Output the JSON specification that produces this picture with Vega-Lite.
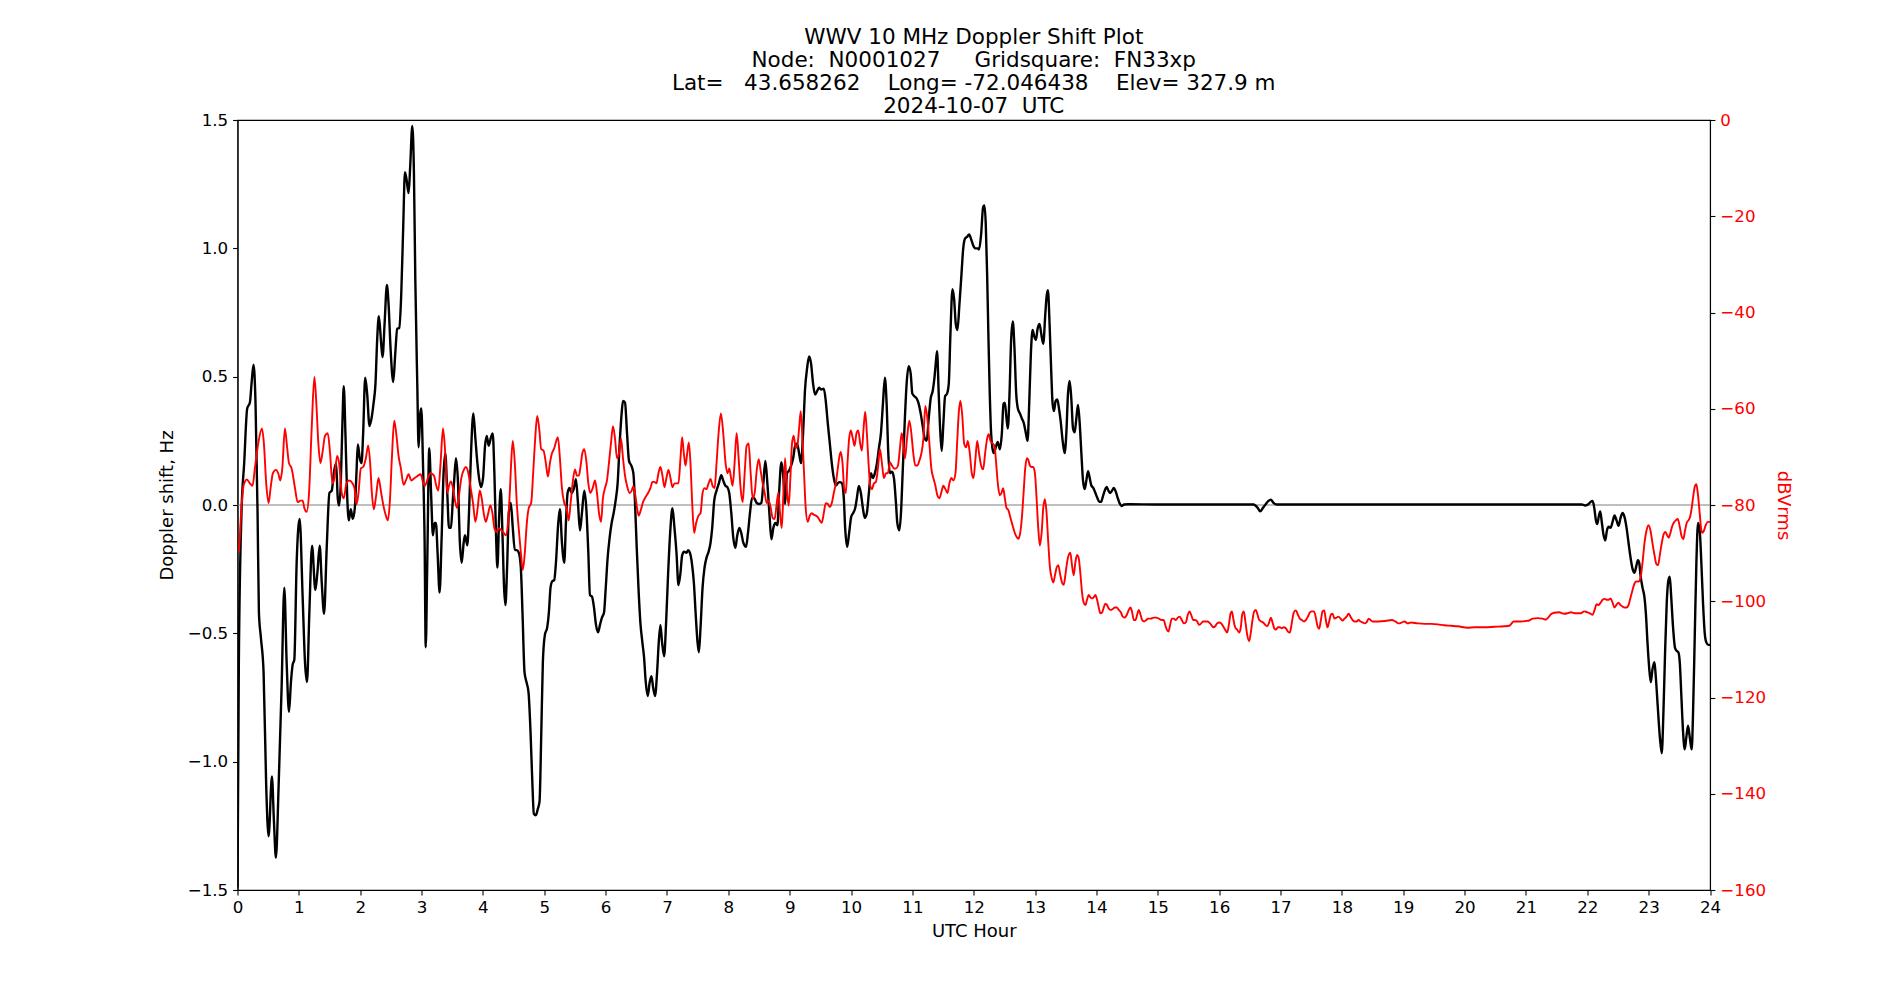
{
  "$schema": "https://vega.github.io/schema/vega-lite/v6.json",
  "width": 1472.5,
  "height": 770,
  "autosize": {"type": "none"},
  "padding": {"left": 237.5, "top": 120, "right": 190, "bottom": 110},
  "background": "white",
  "config": {
    "font": "DejaVu Sans",
    "view": {"stroke": "black", "strokeWidth": 1.1},
    "axis": {
      "grid": false,
      "domainColor": "black",
      "domainWidth": 1.1,
      "tickColor": "black",
      "tickWidth": 1.1,
      "tickSize": 4.9,
      "labelPadding": 4.9,
      "labelFont": "DejaVu Sans",
      "labelFontSize": 16.7,
      "labelColor": "black",
      "labelFlush": false,
      "labelOverlap": false,
      "titleFont": "DejaVu Sans",
      "titleFontSize": 18,
      "titleFontWeight": "normal",
      "titleColor": "black"
    }
  },
  "title": {
    "text": [
      "WWV 10 MHz Doppler Shift Plot",
      "Node:\u00a0\u00a0N0001027\u00a0\u00a0\u00a0\u00a0\u00a0Gridsquare:\u00a0\u00a0FN33xp",
      "Lat=\u00a0\u00a0\u00a043.658262\u00a0\u00a0\u00a0\u00a0Long=\u00a0-72.046438\u00a0\u00a0\u00a0\u00a0Elev=\u00a0327.9\u00a0m",
      "2024-10-07\u00a0\u00a0UTC"
    ],
    "font": "DejaVu Sans",
    "fontSize": 21.5,
    "fontWeight": "normal",
    "lineHeight": 23,
    "color": "black",
    "anchor": "middle",
    "frame": "group",
    "baseline": "bottom",
    "offset": 6,
    "dy": 33
  },
  "datasets": {
    "doppler": [
      {"h":0,"v":-1.49},{"h":0.022,"v":-0.612},{"h":0.065,"v":-0.031},{"h":0.109,"v":0.163},{"h":0.158,"v":0.376},{"h":0.202,"v":0.399},{"h":0.229,"v":0.473},{"h":0.261,"v":0.547},{"h":0.294,"v":0.395},{"h":0.327,"v":-0.031},{"h":0.349,"v":-0.419},{"h":0.381,"v":-0.516},{"h":0.425,"v":-0.651},{"h":0.468,"v":-1.097},{"h":0.507,"v":-1.291},{"h":0.561,"v":-1.058},{"h":0.594,"v":-1.233},{"h":0.626,"v":-1.374},{"h":0.67,"v":-1.097},{"h":0.719,"v":-0.709},{"h":0.763,"v":-0.322},{"h":0.801,"v":-0.612},{"h":0.839,"v":-0.806},{"h":0.871,"v":-0.69},{"h":0.899,"v":-0.622},{"h":0.926,"v":-0.603},{"h":0.964,"v":-0.225},{"h":1.013,"v":-0.054},{"h":1.062,"v":-0.36},{"h":1.1,"v":-0.612},{"h":1.133,"v":-0.69},{"h":1.171,"v":-0.419},{"h":1.215,"v":-0.159},{"h":1.269,"v":-0.331},{"h":1.302,"v":-0.264},{"h":1.34,"v":-0.159},{"h":1.373,"v":-0.302},{"h":1.411,"v":-0.424},{"h":1.454,"v":-0.167},{"h":1.498,"v":0.047},{"h":1.536,"v":0.056},{"h":1.569,"v":0.124},{"h":1.607,"v":0.163},{"h":1.634,"v":0.027},{"h":1.656,"v":-0.002},{"h":1.683,"v":0.085},{"h":1.71,"v":0.318},{"h":1.732,"v":0.463},{"h":1.759,"v":0.279},{"h":1.786,"v":0.047},{"h":1.814,"v":-0.06},{"h":1.846,"v":-0.016},{"h":1.879,"v":-0.054},{"h":1.912,"v":-0.012},{"h":1.939,"v":0.124},{"h":1.961,"v":0.236},{"h":1.993,"v":0.182},{"h":2.021,"v":0.163},{"h":2.048,"v":0.279},{"h":2.081,"v":0.496},{"h":2.113,"v":0.434},{"h":2.151,"v":0.308},{"h":2.184,"v":0.337},{"h":2.217,"v":0.395},{"h":2.249,"v":0.473},{"h":2.277,"v":0.647},{"h":2.304,"v":0.736},{"h":2.342,"v":0.628},{"h":2.364,"v":0.576},{"h":2.397,"v":0.705},{"h":2.435,"v":0.857},{"h":2.462,"v":0.783},{"h":2.495,"v":0.609},{"h":2.538,"v":0.479},{"h":2.571,"v":0.589},{"h":2.603,"v":0.686},{"h":2.636,"v":0.69},{"h":2.669,"v":0.822},{"h":2.702,"v":1.093},{"h":2.729,"v":1.297},{"h":2.756,"v":1.267},{"h":2.789,"v":1.215},{"h":2.816,"v":1.326},{"h":2.849,"v":1.477},{"h":2.876,"v":1.287},{"h":2.898,"v":0.88},{"h":2.93,"v":0.473},{"h":2.952,"v":0.225},{"h":2.979,"v":0.357},{"h":2.996,"v":0.376},{"h":3.023,"v":0.163},{"h":3.05,"v":-0.147},{"h":3.068,"v":-0.554},
      {"h":3.093,"v":-0.225},{"h":3.125,"v":0.221},{"h":3.158,"v":0.027},{"h":3.185,"v":-0.118},{"h":3.212,"v":-0.07},{"h":3.234,"v":-0.07},{"h":3.261,"v":-0.186},{"h":3.294,"v":-0.341},{"h":3.327,"v":-0.128},{"h":3.359,"v":0.124},{"h":3.387,"v":0.202},{"h":3.419,"v":0.047},{"h":3.447,"v":-0.089},{"h":3.479,"v":-0.089},{"h":3.507,"v":0.008},{"h":3.534,"v":0.105},{"h":3.561,"v":0.182},{"h":3.594,"v":0.085},{"h":3.621,"v":-0.128},{"h":3.654,"v":-0.225},{"h":3.686,"v":-0.147},{"h":3.708,"v":-0.118},{"h":3.746,"v":-0.157},{"h":3.773,"v":-0.031},{"h":3.806,"v":0.202},{"h":3.844,"v":0.357},{"h":3.877,"v":0.26},{"h":3.91,"v":0.163},{"h":3.937,"v":0.105},{"h":3.969,"v":0.07},{"h":4.002,"v":0.105},{"h":4.035,"v":0.231},{"h":4.062,"v":0.269},{"h":4.095,"v":0.231},{"h":4.127,"v":0.26},{"h":4.16,"v":0.279},{"h":4.187,"v":0.124},{"h":4.215,"v":-0.128},{"h":4.236,"v":-0.244},{"h":4.264,"v":-0.05},{"h":4.291,"v":0.062},{"h":4.318,"v":-0.109},{"h":4.345,"v":-0.322},{"h":4.367,"v":-0.39},{"h":4.394,"v":-0.244},{"h":4.422,"v":-0.031},{"h":4.454,"v":0.008},{"h":4.487,"v":-0.089},{"h":4.52,"v":-0.176},{"h":4.552,"v":-0.176},{"h":4.585,"v":-0.186},{"h":4.618,"v":-0.244},{"h":4.645,"v":-0.419},{"h":4.678,"v":-0.651},{"h":4.71,"v":-0.69},{"h":4.743,"v":-0.729},{"h":4.776,"v":-0.884},{"h":4.808,"v":-1.097},{"h":4.83,"v":-1.203},{"h":4.863,"v":-1.209},{"h":4.895,"v":-1.184},{"h":4.923,"v":-1.155},{"h":4.95,"v":-0.903},{"h":4.977,"v":-0.612},{"h":5.01,"v":-0.506},{"h":5.048,"v":-0.477},{"h":5.075,"v":-0.419},{"h":5.102,"v":-0.322},{"h":5.13,"v":-0.297},{"h":5.162,"v":-0.293},{"h":5.19,"v":-0.225},{"h":5.228,"v":-0.07},{"h":5.255,"v":-0.016},{"h":5.288,"v":-0.147},{"h":5.326,"v":-0.225},{"h":5.353,"v":-0.07},{"h":5.38,"v":0.047},{"h":5.413,"v":0.066},{"h":5.446,"v":0.047},{"h":5.484,"v":0.066},{"h":5.516,"v":0.101},{"h":5.549,"v":0.008},{"h":5.582,"v":-0.099},{"h":5.614,"v":-0.031},{"h":5.652,"v":0.056},{"h":5.685,"v":-0.012},{"h":5.718,"v":-0.186},{"h":5.745,"v":-0.351},{"h":5.778,"v":-0.357},{"h":5.81,"v":-0.399},{"h":5.843,"v":-0.467},{"h":5.876,"v":-0.496},{"h":5.908,"v":-0.467},{"h":5.941,"v":-0.438},{"h":5.974,"v":-0.419},{"h":6.0,"v":-0.33},
      {"h":6.033,"v":-0.205},{"h":6.065,"v":-0.128},{"h":6.098,"v":-0.07},{"h":6.131,"v":-0.031},{"h":6.163,"v":0.017},{"h":6.196,"v":0.085},{"h":6.229,"v":0.24},{"h":6.261,"v":0.357},{"h":6.283,"v":0.405},{"h":6.316,"v":0.399},{"h":6.349,"v":0.279},{"h":6.381,"v":0.172},{"h":6.419,"v":0.153},{"h":6.452,"v":0.124},{"h":6.479,"v":0.008},{"h":6.507,"v":-0.167},{"h":6.539,"v":-0.341},{"h":6.566,"v":-0.457},{"h":6.599,"v":-0.535},{"h":6.626,"v":-0.593},{"h":6.654,"v":-0.69},{"h":6.686,"v":-0.744},{"h":6.719,"v":-0.69},{"h":6.746,"v":-0.667},{"h":6.773,"v":-0.709},{"h":6.806,"v":-0.744},{"h":6.839,"v":-0.651},{"h":6.866,"v":-0.535},{"h":6.893,"v":-0.467},{"h":6.92,"v":-0.535},{"h":6.953,"v":-0.589},{"h":6.986,"v":-0.457},{"h":7.019,"v":-0.264},{"h":7.057,"v":-0.089},{"h":7.089,"v":-0.012},{"h":7.122,"v":-0.089},{"h":7.155,"v":-0.186},{"h":7.187,"v":-0.312},{"h":7.22,"v":-0.264},{"h":7.247,"v":-0.196},{"h":7.28,"v":-0.182},{"h":7.318,"v":-0.186},{"h":7.345,"v":-0.176},{"h":7.373,"v":-0.186},{"h":7.405,"v":-0.225},{"h":7.438,"v":-0.302},{"h":7.471,"v":-0.438},{"h":7.498,"v":-0.535},{"h":7.52,"v":-0.574},{"h":7.547,"v":-0.477},{"h":7.58,"v":-0.322},{"h":7.612,"v":-0.244},{"h":7.645,"v":-0.205},{"h":7.678,"v":-0.182},{"h":7.71,"v":-0.147},{"h":7.737,"v":-0.089},{"h":7.77,"v":0.017},{"h":7.808,"v":0.056},{"h":7.846,"v":0.085},{"h":7.885,"v":0.116},{"h":7.917,"v":0.095},{"h":7.95,"v":0.076},{"h":7.983,"v":0.07},{"h":8.015,"v":0.047},{"h":8.048,"v":-0.031},{"h":8.081,"v":-0.128},{"h":8.113,"v":-0.167},{"h":8.146,"v":-0.118},{"h":8.179,"v":-0.089},{"h":8.211,"v":-0.109},{"h":8.244,"v":-0.147},{"h":8.288,"v":-0.163},{"h":8.32,"v":-0.109},{"h":8.353,"v":-0.031},{"h":8.386,"v":0.027},{"h":8.418,"v":0.027},{"h":8.462,"v":0.008},{"h":8.505,"v":0.004},{"h":8.538,"v":0.008},{"h":8.571,"v":0.085},{"h":8.603,"v":0.172},{"h":8.636,"v":0.085},{"h":8.669,"v":-0.031},{"h":8.702,"v":-0.134},{"h":8.734,"v":-0.089},{"h":8.767,"v":-0.07},{"h":8.8,"v":-0.079},{"h":8.827,"v":0.047},{"h":8.865,"v":0.167},{"h":8.892,"v":0.124},{"h":8.925,"v":0.004},{"h":8.957,"v":0.124},{"h":8.99,"v":0.134},{"h":9.023,"v":0.153},{"h":9.056,"v":0.182},{"h":9.088,"v":0.23},
      {"h":9.12,"v":0.24},{"h":9.153,"v":0.202},{"h":9.185,"v":0.163},{"h":9.218,"v":0.279},{"h":9.251,"v":0.453},{"h":9.283,"v":0.531},{"h":9.316,"v":0.579},{"h":9.349,"v":0.55},{"h":9.381,"v":0.473},{"h":9.414,"v":0.43},{"h":9.447,"v":0.444},{"h":9.479,"v":0.457},{"h":9.512,"v":0.45},{"h":9.556,"v":0.453},{"h":9.588,"v":0.405},{"h":9.621,"v":0.318},{"h":9.654,"v":0.24},{"h":9.686,"v":0.163},{"h":9.719,"v":0.105},{"h":9.752,"v":0.076},{"h":9.784,"v":0.085},{"h":9.817,"v":0.089},{"h":9.85,"v":0.085},{"h":9.882,"v":0.027},{"h":9.904,"v":-0.089},{"h":9.937,"v":-0.163},{"h":9.969,"v":-0.109},{"h":10.002,"v":-0.047},{"h":10.035,"v":-0.031},{"h":10.068,"v":-0.012},{"h":10.095,"v":0.027},{"h":10.127,"v":0.074},{"h":10.16,"v":0.047},{"h":10.193,"v":-0.012},{"h":10.225,"v":-0.05},{"h":10.258,"v":-0.031},{"h":10.291,"v":0.047},{"h":10.324,"v":0.124},{"h":10.356,"v":0.105},{"h":10.389,"v":0.124},{"h":10.422,"v":0.163},{"h":10.454,"v":0.221},{"h":10.487,"v":0.279},{"h":10.52,"v":0.395},{"h":10.552,"v":0.496},{"h":10.58,"v":0.395},{"h":10.607,"v":0.202},{"h":10.634,"v":0.124},{"h":10.667,"v":0.13},{"h":10.699,"v":0.105},{"h":10.732,"v":0.008},{"h":10.754,"v":-0.07},{"h":10.786,"v":-0.099},{"h":10.814,"v":-0.031},{"h":10.841,"v":0.124},{"h":10.874,"v":0.318},{"h":10.906,"v":0.473},{"h":10.939,"v":0.541},{"h":10.972,"v":0.512},{"h":10.999,"v":0.434},{"h":11.032,"v":0.424},{"h":11.07,"v":0.415},{"h":11.102,"v":0.395},{"h":11.135,"v":0.357},{"h":11.168,"v":0.308},{"h":11.2,"v":0.26},{"h":11.233,"v":0.25},{"h":11.266,"v":0.337},{"h":11.298,"v":0.415},{"h":11.331,"v":0.444},{"h":11.358,"v":0.492},{"h":11.38,"v":0.55},{"h":11.402,"v":0.599},{"h":11.429,"v":0.434},{"h":11.456,"v":0.279},{"h":11.478,"v":0.211},{"h":11.505,"v":0.318},{"h":11.533,"v":0.424},{"h":11.565,"v":0.434},{"h":11.593,"v":0.473},{"h":11.62,"v":0.667},{"h":11.653,"v":0.841},{"h":11.68,"v":0.802},{"h":11.707,"v":0.705},{"h":11.734,"v":0.682},{"h":11.767,"v":0.783},{"h":11.8,"v":0.899},{"h":11.827,"v":0.996},{"h":11.859,"v":1.039},{"h":11.892,"v":1.045},{"h":11.925,"v":1.054},{"h":11.958,"v":1.035},{"h":11.99,"v":1.012},{"h":12.023,"v":1.0},{"h":12.061,"v":1.0},
      {"h":12.087,"v":0.996},{"h":12.12,"v":1.054},{"h":12.153,"v":1.161},{"h":12.174,"v":1.167},{"h":12.196,"v":1.093},{"h":12.218,"v":0.899},{"h":12.24,"v":0.647},{"h":12.261,"v":0.434},{"h":12.283,"v":0.279},{"h":12.305,"v":0.221},{"h":12.327,"v":0.202},{"h":12.359,"v":0.225},{"h":12.392,"v":0.246},{"h":12.425,"v":0.217},{"h":12.458,"v":0.279},{"h":12.485,"v":0.395},{"h":12.507,"v":0.399},{"h":12.534,"v":0.337},{"h":12.556,"v":0.298},{"h":12.583,"v":0.434},{"h":12.61,"v":0.647},{"h":12.637,"v":0.715},{"h":12.664,"v":0.609},{"h":12.692,"v":0.434},{"h":12.719,"v":0.376},{"h":12.752,"v":0.357},{"h":12.784,"v":0.337},{"h":12.817,"v":0.318},{"h":12.85,"v":0.279},{"h":12.877,"v":0.25},{"h":12.904,"v":0.395},{"h":12.931,"v":0.589},{"h":12.959,"v":0.682},{"h":12.986,"v":0.657},{"h":13.013,"v":0.643},{"h":13.04,"v":0.686},{"h":13.073,"v":0.705},{"h":13.1,"v":0.667},{"h":13.133,"v":0.628},{"h":13.166,"v":0.744},{"h":13.187,"v":0.812},{"h":13.209,"v":0.837},{"h":13.236,"v":0.705},{"h":13.264,"v":0.512},{"h":13.285,"v":0.395},{"h":13.307,"v":0.366},{"h":13.334,"v":0.405},{"h":13.362,"v":0.411},{"h":13.389,"v":0.376},{"h":13.416,"v":0.328},{"h":13.449,"v":0.25},{"h":13.481,"v":0.202},{"h":13.509,"v":0.279},{"h":13.536,"v":0.434},{"h":13.563,"v":0.483},{"h":13.59,"v":0.415},{"h":13.618,"v":0.298},{"h":13.645,"v":0.283},{"h":13.672,"v":0.337},{"h":13.699,"v":0.39},{"h":13.727,"v":0.318},{"h":13.754,"v":0.202},{"h":13.781,"v":0.095},{"h":13.808,"v":0.062},{"h":13.835,"v":0.095},{"h":13.863,"v":0.132},{"h":13.89,"v":0.105},{"h":13.917,"v":0.076},{"h":13.95,"v":0.066},{"h":13.983,"v":0.047},{"h":14.015,"v":0.027},{"h":14.048,"v":0.012},{"h":14.075,"v":0.012},{"h":14.102,"v":0.031},{"h":14.135,"v":0.056},{"h":14.168,"v":0.07},{"h":14.195,"v":0.056},{"h":14.222,"v":0.047},{"h":14.255,"v":0.056},{"h":14.282,"v":0.066},{"h":14.309,"v":0.056},{"h":14.342,"v":0.031},{"h":14.375,"v":0.008},{"h":14.407,"v":-0.004},{"h":14.451,"v":0.002},{"h":14.516,"v":0.003},{"h":15.0,"v":0.002},{"h":15.5,"v":0.002},{"h":16.0,"v":0.002},{"h":16.56,"v":0.002},{"h":16.63,"v":-0.012},{"h":16.668,"v":-0.025},{"h":16.712,"v":-0.012},{"h":16.761,"v":0.004},{"h":16.804,"v":0.016},{"h":16.842,"v":0.021},{"h":16.886,"v":0.008},{"h":16.94,"v":0.002},{"h":17.5,"v":0.002},{"h":18.0,"v":0.002},{"h":19.0,"v":0.002},{"h":20.0,"v":0.002},{"h":21.0,"v":0.002},{"h":21.913,"v":0.002},
      {"h":21.967,"v":-0.002},{"h":22.022,"v":0.004},{"h":22.054,"v":0.012},{"h":22.087,"v":0.016},{"h":22.114,"v":-0.012},{"h":22.141,"v":-0.06},{"h":22.163,"v":-0.074},{"h":22.19,"v":-0.041},{"h":22.211,"v":-0.025},{"h":22.238,"v":-0.07},{"h":22.266,"v":-0.118},{"h":22.293,"v":-0.138},{"h":22.32,"v":-0.099},{"h":22.347,"v":-0.085},{"h":22.379,"v":-0.089},{"h":22.412,"v":-0.066},{"h":22.444,"v":-0.041},{"h":22.477,"v":-0.06},{"h":22.509,"v":-0.081},{"h":22.542,"v":-0.05},{"h":22.575,"v":-0.031},{"h":22.607,"v":-0.047},{"h":22.64,"v":-0.089},{"h":22.672,"v":-0.147},{"h":22.705,"v":-0.205},{"h":22.737,"v":-0.248},{"h":22.77,"v":-0.264},{"h":22.797,"v":-0.24},{"h":22.824,"v":-0.215},{"h":22.846,"v":-0.225},{"h":22.867,"v":-0.273},{"h":22.9,"v":-0.322},{"h":22.932,"v":-0.36},{"h":22.954,"v":-0.419},{"h":22.981,"v":-0.535},{"h":23.008,"v":-0.632},{"h":23.035,"v":-0.69},{"h":23.062,"v":-0.641},{"h":23.095,"v":-0.612},{"h":23.117,"v":-0.671},{"h":23.149,"v":-0.787},{"h":23.182,"v":-0.903},{"h":23.214,"v":-0.967},{"h":23.241,"v":-0.806},{"h":23.268,"v":-0.574},{"h":23.295,"v":-0.38},{"h":23.322,"v":-0.293},{"h":23.344,"v":-0.279},{"h":23.366,"v":-0.351},{"h":23.398,"v":-0.477},{"h":23.431,"v":-0.558},{"h":23.463,"v":-0.57},{"h":23.485,"v":-0.574},{"h":23.507,"v":-0.612},{"h":23.534,"v":-0.748},{"h":23.561,"v":-0.884},{"h":23.588,"v":-0.952},{"h":23.615,"v":-0.903},{"h":23.642,"v":-0.86},{"h":23.669,"v":-0.903},{"h":23.702,"v":-0.952},{"h":23.724,"v":-0.806},{"h":23.751,"v":-0.516},{"h":23.778,"v":-0.225},{"h":23.805,"v":-0.07},{"h":23.832,"v":-0.099},{"h":23.859,"v":-0.225},{"h":23.886,"v":-0.38},{"h":23.913,"v":-0.496},{"h":23.94,"v":-0.535},{"h":23.973,"v":-0.545},{"h":24.0,"v":-0.545}
    ],
    "power": [
      {"h":0.005,"db":-89.6},{"h":0.022,"db":-89.4},{"h":0.054,"db":-82.7},{"h":0.098,"db":-76.0},{"h":0.153,"db":-74.7},{"h":0.202,"db":-75.5},{"h":0.245,"db":-76.0},{"h":0.283,"db":-72.4},{"h":0.338,"db":-67.2},{"h":0.398,"db":-64.1},{"h":0.43,"db":-67.2},{"h":0.468,"db":-75.5},{"h":0.507,"db":-79.6},{"h":0.539,"db":-76.5},{"h":0.577,"db":-73.4},{"h":0.626,"db":-72.7},{"h":0.664,"db":-73.4},{"h":0.697,"db":-74.9},{"h":0.73,"db":-72.4},{"h":0.773,"db":-64.1},{"h":0.806,"db":-67.7},{"h":0.839,"db":-71.3},{"h":0.882,"db":-72.4},{"h":0.937,"db":-76.5},{"h":0.98,"db":-79.4},{"h":1.024,"db":-79.1},{"h":1.062,"db":-79.1},{"h":1.089,"db":-80.6},{"h":1.127,"db":-81.4},{"h":1.166,"db":-77.5},{"h":1.209,"db":-64.1},{"h":1.253,"db":-53.4},{"h":1.285,"db":-58.9},{"h":1.318,"db":-67.2},{"h":1.351,"db":-71.3},{"h":1.383,"db":-69.3},{"h":1.427,"db":-65.6},{"h":1.471,"db":-65.1},{"h":1.509,"db":-69.3},{"h":1.547,"db":-75.5},{"h":1.58,"db":-74.4},{"h":1.623,"db":-69.8},{"h":1.656,"db":-71.3},{"h":1.699,"db":-77.5},{"h":1.732,"db":-78.6},{"h":1.776,"db":-75.5},{"h":1.819,"db":-74.9},{"h":1.874,"db":-75.5},{"h":1.906,"db":-76.5},{"h":1.939,"db":-79.9},{"h":1.972,"db":-77.5},{"h":2.01,"db":-72.4},{"h":2.048,"db":-72.1},{"h":2.092,"db":-70.3},{"h":2.13,"db":-67.6},{"h":2.162,"db":-71.3},{"h":2.19,"db":-77.5},{"h":2.222,"db":-80.9},{"h":2.26,"db":-78.0},{"h":2.298,"db":-74.4},{"h":2.342,"db":-77.5},{"h":2.386,"db":-80.6},{"h":2.418,"db":-82.2},{"h":2.451,"db":-83.2},{"h":2.484,"db":-79.1},{"h":2.516,"db":-70.3},{"h":2.554,"db":-62.5},{"h":2.587,"db":-65.1},{"h":2.625,"db":-69.8},{"h":2.663,"db":-72.4},{"h":2.707,"db":-75.8},{"h":2.745,"db":-74.9},{"h":2.789,"db":-73.6},{"h":2.832,"db":-74.9},{"h":2.887,"db":-74.4},{"h":2.941,"db":-73.9},{"h":2.985,"db":-73.6},{"h":3.028,"db":-75.5},
      {"h":3.054,"db":-76.0},{"h":3.098,"db":-74.6},{"h":3.147,"db":-73.4},{"h":3.202,"db":-73.9},{"h":3.24,"db":-76.0},{"h":3.272,"db":-77.0},{"h":3.31,"db":-71.3},{"h":3.349,"db":-64.1},{"h":3.381,"db":-68.2},{"h":3.419,"db":-77.5},{"h":3.447,"db":-76.0},{"h":3.479,"db":-75.1},{"h":3.512,"db":-76.5},{"h":3.545,"db":-79.1},{"h":3.577,"db":-80.6},{"h":3.61,"db":-78.0},{"h":3.648,"db":-74.4},{"h":3.692,"db":-72.6},{"h":3.724,"db":-72.1},{"h":3.763,"db":-73.4},{"h":3.801,"db":-76.5},{"h":3.839,"db":-79.6},{"h":3.877,"db":-83.5},{"h":3.915,"db":-80.6},{"h":3.948,"db":-77.0},{"h":3.98,"db":-78.6},{"h":4.013,"db":-81.7},{"h":4.046,"db":-83.5},{"h":4.078,"db":-82.2},{"h":4.122,"db":-80.1},{"h":4.155,"db":-81.7},{"h":4.187,"db":-84.8},{"h":4.22,"db":-85.6},{"h":4.264,"db":-84.8},{"h":4.302,"db":-85.3},{"h":4.34,"db":-85.8},{"h":4.373,"db":-86.3},{"h":4.405,"db":-84.2},{"h":4.438,"db":-77.5},{"h":4.46,"db":-71.3},{"h":4.487,"db":-66.7},{"h":4.52,"db":-71.3},{"h":4.552,"db":-79.6},{"h":4.59,"db":-85.8},{"h":4.618,"db":-89.9},{"h":4.65,"db":-93.5},{"h":4.683,"db":-89.9},{"h":4.716,"db":-83.7},{"h":4.748,"db":-80.6},{"h":4.786,"db":-79.6},{"h":4.819,"db":-73.4},{"h":4.852,"db":-66.2},{"h":4.885,"db":-61.5},{"h":4.917,"db":-64.1},{"h":4.95,"db":-68.4},{"h":4.988,"db":-68.7},{"h":5.026,"db":-71.3},{"h":5.059,"db":-74.1},{"h":5.092,"db":-71.3},{"h":5.124,"db":-69.3},{"h":5.162,"db":-68.2},{"h":5.195,"db":-66.7},{"h":5.222,"db":-65.9},{"h":5.255,"db":-70.3},{"h":5.288,"db":-76.5},{"h":5.326,"db":-79.6},{"h":5.364,"db":-80.6},{"h":5.397,"db":-83.2},{"h":5.429,"db":-79.6},{"h":5.462,"db":-75.5},{"h":5.5,"db":-72.6},{"h":5.533,"db":-73.9},{"h":5.565,"db":-73.9},{"h":5.593,"db":-71.8},{"h":5.62,"db":-69.3},{"h":5.652,"db":-68.4},{"h":5.685,"db":-70.8},{"h":5.718,"db":-75.5},{"h":5.75,"db":-77.5},{"h":5.789,"db":-76.5},{"h":5.827,"db":-74.9},{"h":5.859,"db":-77.5},{"h":5.892,"db":-81.7},{"h":5.925,"db":-83.5},
      {"h":5.956,"db":-78.6},{"h":5.989,"db":-76.5},{"h":6.022,"db":-74.9},{"h":6.054,"db":-71.3},{"h":6.087,"db":-67.2},{"h":6.12,"db":-63.6},{"h":6.153,"db":-66.2},{"h":6.185,"db":-70.3},{"h":6.218,"db":-69.3},{"h":6.251,"db":-66.2},{"h":6.283,"db":-70.3},{"h":6.316,"db":-73.9},{"h":6.349,"db":-76.0},{"h":6.392,"db":-77.5},{"h":6.425,"db":-77.0},{"h":6.452,"db":-76.1},{"h":6.479,"db":-77.5},{"h":6.512,"db":-80.6},{"h":6.539,"db":-82.2},{"h":6.572,"db":-81.1},{"h":6.61,"db":-79.4},{"h":6.654,"db":-78.3},{"h":6.692,"db":-77.5},{"h":6.73,"db":-76.5},{"h":6.763,"db":-75.2},{"h":6.795,"db":-75.2},{"h":6.828,"db":-75.5},{"h":6.861,"db":-73.4},{"h":6.893,"db":-72.1},{"h":6.926,"db":-73.9},{"h":6.959,"db":-76.3},{"h":6.991,"db":-74.4},{"h":7.024,"db":-72.7},{"h":7.057,"db":-74.4},{"h":7.089,"db":-76.3},{"h":7.122,"db":-75.5},{"h":7.155,"db":-75.5},{"h":7.187,"db":-75.5},{"h":7.22,"db":-70.3},{"h":7.247,"db":-65.9},{"h":7.275,"db":-69.3},{"h":7.302,"db":-71.8},{"h":7.329,"db":-69.3},{"h":7.356,"db":-67.0},{"h":7.383,"db":-71.3},{"h":7.411,"db":-79.6},{"h":7.443,"db":-85.8},{"h":7.476,"db":-83.7},{"h":7.514,"db":-82.2},{"h":7.547,"db":-81.7},{"h":7.58,"db":-77.5},{"h":7.612,"db":-76.5},{"h":7.645,"db":-76.7},{"h":7.678,"db":-75.5},{"h":7.71,"db":-74.6},{"h":7.743,"db":-76.0},{"h":7.776,"db":-76.5},{"h":7.808,"db":-71.3},{"h":7.841,"db":-65.1},{"h":7.879,"db":-61.0},{"h":7.917,"db":-65.1},{"h":7.955,"db":-71.3},{"h":7.988,"db":-73.4},{"h":8.015,"db":-72.4},{"h":8.042,"db":-74.2},{"h":8.07,"db":-76.0},{"h":8.102,"db":-71.3},{"h":8.135,"db":-65.1},{"h":8.168,"db":-70.3},{"h":8.2,"db":-76.5},{"h":8.233,"db":-79.4},{"h":8.266,"db":-73.4},{"h":8.298,"db":-67.7},{"h":8.331,"db":-67.2},{"h":8.364,"db":-73.4},{"h":8.397,"db":-78.6},{"h":8.429,"db":-77.5},{"h":8.462,"db":-72.9},{"h":8.495,"db":-70.5},{"h":8.527,"db":-72.9},{"h":8.56,"db":-75.5},{"h":8.593,"db":-77.5},{"h":8.625,"db":-79.6},{"h":8.658,"db":-79.1},{"h":8.691,"db":-80.6},{"h":8.723,"db":-82.7},{"h":8.756,"db":-82.9},{"h":8.789,"db":-79.6},{"h":8.816,"db":-77.5},{"h":8.843,"db":-81.7},{"h":8.87,"db":-84.8},{"h":8.898,"db":-77.5},{"h":8.925,"db":-70.3},{"h":8.952,"db":-76.5},{"h":8.984,"db":-80.1},
      {"h":9.011,"db":-74.4},{"h":9.038,"db":-67.2},{"h":9.065,"db":-65.6},{"h":9.098,"db":-68.2},{"h":9.125,"db":-67.7},{"h":9.153,"db":-64.1},{"h":9.18,"db":-60.5},{"h":9.207,"db":-66.2},{"h":9.234,"db":-73.4},{"h":9.261,"db":-80.6},{"h":9.294,"db":-83.5},{"h":9.327,"db":-82.2},{"h":9.359,"db":-81.7},{"h":9.392,"db":-82.0},{"h":9.425,"db":-82.2},{"h":9.458,"db":-82.5},{"h":9.49,"db":-83.2},{"h":9.523,"db":-83.7},{"h":9.556,"db":-81.7},{"h":9.588,"db":-79.6},{"h":9.621,"db":-79.8},{"h":9.654,"db":-80.4},{"h":9.686,"db":-79.6},{"h":9.719,"db":-77.5},{"h":9.752,"db":-75.5},{"h":9.784,"db":-72.4},{"h":9.812,"db":-69.8},{"h":9.833,"db":-69.0},{"h":9.861,"db":-71.3},{"h":9.888,"db":-76.5},{"h":9.915,"db":-77.5},{"h":9.942,"db":-71.3},{"h":9.969,"db":-66.2},{"h":9.997,"db":-64.5},{"h":10.029,"db":-66.2},{"h":10.057,"db":-67.7},{"h":10.089,"db":-65.1},{"h":10.117,"db":-64.5},{"h":10.149,"db":-67.2},{"h":10.176,"db":-68.7},{"h":10.204,"db":-64.1},{"h":10.231,"db":-60.6},{"h":10.258,"db":-65.1},{"h":10.285,"db":-71.3},{"h":10.313,"db":-76.0},{"h":10.34,"db":-76.7},{"h":10.373,"db":-75.5},{"h":10.405,"db":-75.2},{"h":10.438,"db":-72.4},{"h":10.471,"db":-68.4},{"h":10.503,"db":-71.3},{"h":10.536,"db":-74.4},{"h":10.569,"db":-73.4},{"h":10.601,"db":-73.4},{"h":10.634,"db":-71.1},{"h":10.667,"db":-71.8},{"h":10.699,"db":-72.4},{"h":10.732,"db":-72.4},{"h":10.765,"db":-71.8},{"h":10.797,"db":-68.2},{"h":10.825,"db":-65.1},{"h":10.852,"db":-67.2},{"h":10.879,"db":-70.3},{"h":10.912,"db":-66.2},{"h":10.95,"db":-62.5},{"h":10.983,"db":-65.1},{"h":11.015,"db":-69.3},{"h":11.048,"db":-71.8},{"h":11.081,"db":-71.8},{"h":11.113,"db":-70.8},{"h":11.146,"db":-69.3},{"h":11.179,"db":-66.2},{"h":11.211,"db":-59.4},{"h":11.244,"db":-62.0},{"h":11.277,"db":-67.2},{"h":11.309,"db":-72.4},{"h":11.342,"db":-74.4},{"h":11.375,"db":-76.0},{"h":11.407,"db":-78.0},{"h":11.44,"db":-78.6},{"h":11.473,"db":-77.3},{"h":11.505,"db":-76.0},{"h":11.538,"db":-76.7},{"h":11.571,"db":-77.5},{"h":11.603,"db":-75.5},{"h":11.636,"db":-74.4},{"h":11.669,"db":-74.9},{"h":11.702,"db":-73.4},{"h":11.729,"db":-67.2},{"h":11.756,"db":-60.8},{"h":11.783,"db":-58.4},{"h":11.816,"db":-62.0},{"h":11.843,"db":-67.2},{"h":11.876,"db":-68.0},{"h":11.903,"db":-66.7},{"h":11.936,"db":-69.3},{"h":11.968,"db":-73.4},{"h":11.996,"db":-74.4},{"h":12.028,"db":-70.3},{"h":12.056,"db":-66.7},
      {"h":12.087,"db":-69.3},{"h":12.12,"db":-71.8},{"h":12.153,"db":-72.6},{"h":12.185,"db":-69.3},{"h":12.218,"db":-66.2},{"h":12.245,"db":-65.3},{"h":12.272,"db":-66.7},{"h":12.305,"db":-67.2},{"h":12.338,"db":-67.7},{"h":12.365,"db":-71.3},{"h":12.392,"db":-75.5},{"h":12.425,"db":-78.0},{"h":12.452,"db":-77.5},{"h":12.479,"db":-76.5},{"h":12.507,"db":-78.6},{"h":12.534,"db":-80.6},{"h":12.566,"db":-81.1},{"h":12.599,"db":-82.7},{"h":12.632,"db":-84.2},{"h":12.664,"db":-85.6},{"h":12.697,"db":-86.6},{"h":12.73,"db":-87.0},{"h":12.757,"db":-85.8},{"h":12.784,"db":-82.7},{"h":12.812,"db":-77.5},{"h":12.839,"db":-72.4},{"h":12.866,"db":-70.3},{"h":12.888,"db":-70.6},{"h":12.915,"db":-71.8},{"h":12.942,"db":-72.1},{"h":12.969,"db":-72.1},{"h":12.997,"db":-73.4},{"h":13.024,"db":-78.6},{"h":13.051,"db":-84.8},{"h":13.078,"db":-88.4},{"h":13.106,"db":-85.8},{"h":13.133,"db":-80.6},{"h":13.16,"db":-78.8},{"h":13.187,"db":-81.7},{"h":13.215,"db":-87.9},{"h":13.242,"db":-93.0},{"h":13.269,"db":-95.1},{"h":13.296,"db":-96.1},{"h":13.324,"db":-94.6},{"h":13.351,"db":-93.0},{"h":13.378,"db":-92.5},{"h":13.411,"db":-94.6},{"h":13.438,"db":-96.1},{"h":13.465,"db":-96.6},{"h":13.493,"db":-94.6},{"h":13.52,"db":-92.0},{"h":13.547,"db":-90.4},{"h":13.574,"db":-89.9},{"h":13.601,"db":-92.5},{"h":13.629,"db":-94.6},{"h":13.656,"db":-92.0},{"h":13.683,"db":-90.4},{"h":13.71,"db":-91.0},{"h":13.737,"db":-94.1},{"h":13.765,"db":-98.2},{"h":13.792,"db":-100.3},{"h":13.819,"db":-100.8},{"h":13.846,"db":-99.7},{"h":13.874,"db":-98.7},{"h":13.901,"db":-99.2},{"h":13.928,"db":-99.4},{"h":13.955,"db":-99.2},{"h":13.983,"db":-98.7},{"h":14.01,"db":-99.7},{"h":14.037,"db":-101.3},{"h":14.064,"db":-102.5},{"h":14.092,"db":-102.3},{"h":14.119,"db":-101.3},{"h":14.146,"db":-100.5},{"h":14.173,"db":-100.8},{"h":14.2,"db":-101.5},{"h":14.233,"db":-101.8},{"h":14.266,"db":-101.6},{"h":14.298,"db":-101.3},{"h":14.331,"db":-101.3},{"h":14.364,"db":-101.8},{"h":14.397,"db":-102.3},{"h":14.429,"db":-103.2},{"h":14.462,"db":-103.4},{"h":14.495,"db":-102.8},{"h":14.527,"db":-101.8},{"h":14.554,"db":-101.3},{"h":14.582,"db":-102.3},{"h":14.609,"db":-103.9},{"h":14.636,"db":-103.9},{"h":14.663,"db":-102.8},{"h":14.691,"db":-101.8},{"h":14.718,"db":-102.8},{"h":14.745,"db":-103.9},{"h":14.778,"db":-104.2},{"h":14.81,"db":-103.9},{"h":14.843,"db":-103.6},{"h":14.887,"db":-103.6},{"h":14.93,"db":-103.4},{"h":14.974,"db":-103.4},{"h":15.017,"db":-103.6},
      {"h":15.065,"db":-103.9},{"h":15.098,"db":-103.9},{"h":15.12,"db":-104.9},{"h":15.147,"db":-105.9},{"h":15.174,"db":-106.3},{"h":15.201,"db":-104.9},{"h":15.228,"db":-103.6},{"h":15.261,"db":-103.6},{"h":15.293,"db":-103.9},{"h":15.326,"db":-103.4},{"h":15.359,"db":-103.2},{"h":15.391,"db":-103.9},{"h":15.424,"db":-104.6},{"h":15.457,"db":-104.4},{"h":15.489,"db":-102.8},{"h":15.516,"db":-102.1},{"h":15.543,"db":-102.8},{"h":15.576,"db":-103.9},{"h":15.609,"db":-103.9},{"h":15.641,"db":-104.2},{"h":15.674,"db":-104.9},{"h":15.707,"db":-104.6},{"h":15.739,"db":-104.2},{"h":15.804,"db":-104.2},{"h":15.837,"db":-104.4},{"h":15.87,"db":-104.9},{"h":15.902,"db":-105.4},{"h":15.935,"db":-105.2},{"h":15.967,"db":-104.6},{"h":16.0,"db":-104.4},{"h":16.033,"db":-104.6},{"h":16.065,"db":-105.2},{"h":16.098,"db":-105.9},{"h":16.13,"db":-106.5},{"h":16.158,"db":-104.9},{"h":16.185,"db":-102.6},{"h":16.207,"db":-102.1},{"h":16.234,"db":-103.9},{"h":16.261,"db":-105.4},{"h":16.293,"db":-105.9},{"h":16.326,"db":-106.5},{"h":16.353,"db":-105.4},{"h":16.375,"db":-102.8},{"h":16.402,"db":-102.1},{"h":16.429,"db":-104.4},{"h":16.457,"db":-107.0},{"h":16.489,"db":-108.3},{"h":16.516,"db":-106.5},{"h":16.543,"db":-103.9},{"h":16.571,"db":-102.1},{"h":16.598,"db":-101.8},{"h":16.625,"db":-102.8},{"h":16.652,"db":-103.9},{"h":16.685,"db":-104.2},{"h":16.717,"db":-104.4},{"h":16.75,"db":-104.9},{"h":16.783,"db":-105.2},{"h":16.815,"db":-104.4},{"h":16.842,"db":-103.4},{"h":16.87,"db":-104.4},{"h":16.897,"db":-105.6},{"h":16.924,"db":-105.9},{"h":16.957,"db":-105.4},{"h":16.989,"db":-105.4},{"h":17.022,"db":-105.6},{"h":17.054,"db":-105.4},{"h":17.087,"db":-105.6},{"h":17.12,"db":-106.3},{"h":17.152,"db":-106.5},{"h":17.185,"db":-104.4},{"h":17.217,"db":-102.3},{"h":17.25,"db":-101.9},{"h":17.283,"db":-102.8},{"h":17.315,"db":-103.6},{"h":17.348,"db":-103.9},{"h":17.38,"db":-104.2},{"h":17.413,"db":-103.9},{"h":17.446,"db":-103.2},{"h":17.478,"db":-102.3},{"h":17.511,"db":-102.1},{"h":17.543,"db":-102.1},{"h":17.576,"db":-103.4},{"h":17.603,"db":-105.2},{"h":17.63,"db":-105.7},{"h":17.658,"db":-103.9},{"h":17.685,"db":-102.1},{"h":17.712,"db":-101.9},{"h":17.739,"db":-103.9},{"h":17.766,"db":-105.4},{"h":17.793,"db":-104.2},{"h":17.821,"db":-102.8},{"h":17.848,"db":-102.6},{"h":17.88,"db":-103.6},{"h":17.913,"db":-103.4},{"h":17.946,"db":-103.2},{"h":17.978,"db":-103.6},{"h":18.011,"db":-104.0},{"h":18.043,"db":-103.6},{"h":18.076,"db":-103.2},{"h":18.109,"db":-102.6},{"h":18.141,"db":-103.2},{"h":18.174,"db":-103.9},{"h":18.207,"db":-104.2},{"h":18.239,"db":-104.2},{"h":18.272,"db":-103.9},{"h":18.304,"db":-104.2},{"h":18.337,"db":-104.4},{"h":18.37,"db":-104.6},{"h":18.402,"db":-104.4},{"h":18.435,"db":-103.6},{"h":18.467,"db":-103.9},{"h":18.5,"db":-104.2},{"h":18.598,"db":-104.2},{"h":18.707,"db":-104.1},{"h":18.815,"db":-103.9},{"h":18.87,"db":-104.2},{"h":18.924,"db":-104.6},{"h":18.978,"db":-104.4},
      {"h":19.022,"db":-104.2},{"h":19.076,"db":-104.6},{"h":19.13,"db":-104.4},{"h":19.238,"db":-104.6},{"h":19.347,"db":-104.7},{"h":19.455,"db":-104.7},{"h":19.564,"db":-104.8},{"h":19.672,"db":-105.0},{"h":19.78,"db":-105.1},{"h":19.889,"db":-105.2},{"h":20.051,"db":-105.5},{"h":20.16,"db":-105.4},{"h":20.322,"db":-105.4},{"h":20.485,"db":-105.3},{"h":20.648,"db":-105.2},{"h":20.729,"db":-105.1},{"h":20.767,"db":-104.6},{"h":20.799,"db":-104.2},{"h":20.843,"db":-104.2},{"h":20.919,"db":-104.2},{"h":21.0,"db":-104.1},{"h":21.054,"db":-104.0},{"h":21.108,"db":-103.6},{"h":21.19,"db":-103.5},{"h":21.271,"db":-103.6},{"h":21.325,"db":-103.8},{"h":21.363,"db":-103.4},{"h":21.407,"db":-102.7},{"h":21.461,"db":-102.4},{"h":21.542,"db":-102.3},{"h":21.623,"db":-102.6},{"h":21.678,"db":-102.5},{"h":21.732,"db":-102.3},{"h":21.813,"db":-102.5},{"h":21.894,"db":-102.5},{"h":21.949,"db":-102.1},{"h":22.003,"db":-102.3},
      {"h":22.043,"db":-102.5},{"h":22.087,"db":-102.8},{"h":22.119,"db":-101.8},{"h":22.152,"db":-100.6},{"h":22.184,"db":-100.8},{"h":22.217,"db":-100.3},{"h":22.249,"db":-99.7},{"h":22.282,"db":-99.5},{"h":22.314,"db":-99.7},{"h":22.347,"db":-99.7},{"h":22.379,"db":-99.4},{"h":22.412,"db":-100.3},{"h":22.444,"db":-101.3},{"h":22.477,"db":-100.7},{"h":22.509,"db":-100.3},{"h":22.542,"db":-100.8},{"h":22.575,"db":-101.1},{"h":22.607,"db":-101.3},{"h":22.64,"db":-101.3},{"h":22.672,"db":-100.8},{"h":22.705,"db":-99.2},{"h":22.737,"db":-97.7},{"h":22.77,"db":-96.3},{"h":22.802,"db":-95.9},{"h":22.835,"db":-95.9},{"h":22.867,"db":-95.1},{"h":22.9,"db":-92.0},{"h":22.932,"db":-87.9},{"h":22.965,"db":-85.3},{"h":22.997,"db":-84.2},{"h":23.03,"db":-85.3},{"h":23.062,"db":-87.9},{"h":23.095,"db":-90.4},{"h":23.127,"db":-92.3},{"h":23.154,"db":-92.5},{"h":23.182,"db":-90.4},{"h":23.214,"db":-87.9},{"h":23.247,"db":-86.0},{"h":23.274,"db":-85.6},{"h":23.301,"db":-86.3},{"h":23.328,"db":-86.8},{"h":23.355,"db":-85.8},{"h":23.382,"db":-84.5},{"h":23.409,"db":-83.7},{"h":23.442,"db":-83.2},{"h":23.474,"db":-82.9},{"h":23.507,"db":-84.5},{"h":23.539,"db":-86.6},{"h":23.566,"db":-87.1},{"h":23.593,"db":-85.3},{"h":23.621,"db":-83.7},{"h":23.648,"db":-83.2},{"h":23.675,"db":-82.5},{"h":23.702,"db":-80.6},{"h":23.729,"db":-78.0},{"h":23.756,"db":-76.0},{"h":23.778,"db":-75.7},{"h":23.805,"db":-78.0},{"h":23.832,"db":-81.7},{"h":23.854,"db":-84.8},{"h":23.875,"db":-85.8},{"h":23.902,"db":-85.3},{"h":23.93,"db":-84.2},{"h":23.962,"db":-83.5},{"h":24.0,"db":-83.5}
    ]
  },
  "layer": [
    {
      "layer": [
        {
          "data": {"values": [{"level": 0}]},
          "mark": {"type": "rule", "color": "#808080", "strokeWidth": 1},
          "encoding": {
            "y": {"field": "level", "type": "quantitative"}
          }
        },
        {
          "data": {"name": "doppler"},
          "mark": {"type": "line", "color": "black", "strokeWidth": 2.4, "interpolate": "monotone", "clip": true},
          "encoding": {
            "x": {
              "field": "h", "type": "quantitative",
              "scale": {"domain": [0, 24], "nice": false, "zero": false},
              "axis": {"title": "UTC Hour", "values": [0,1,2,3,4,5,6,7,8,9,10,11,12,13,14,15,16,17,18,19,20,21,22,23,24], "format": "d", "titlePadding": 6}
            },
            "y": {
              "field": "v", "type": "quantitative",
              "scale": {"domain": [-1.5, 1.5], "nice": false, "zero": false},
              "axis": {"title": "Doppler shift, Hz", "orient": "left", "values": [-1.5, -1, -0.5, 0, 0.5, 1, 1.5], "format": ".1f", "titlePadding": 11}
            }
          }
        }
      ]
    },
    {
      "data": {"name": "power"},
      "mark": {"type": "line", "color": "red", "strokeWidth": 1.9, "interpolate": "monotone", "clip": true},
      "encoding": {
        "x": {"field": "h", "type": "quantitative", "scale": {"domain": [0, 24], "nice": false, "zero": false}},
        "y": {
          "field": "db", "type": "quantitative",
          "scale": {"domain": [-160, 0], "nice": false, "zero": false},
          "axis": {"title": "dBVrms", "orient": "right", "values": [-160, -140, -120, -100, -80, -60, -40, -20, 0], "format": "d", "labelColor": "red", "titleColor": "red", "titlePadding": 8}
        }
      }
    }
  ],
  "resolve": {"scale": {"y": "independent"}}
}
